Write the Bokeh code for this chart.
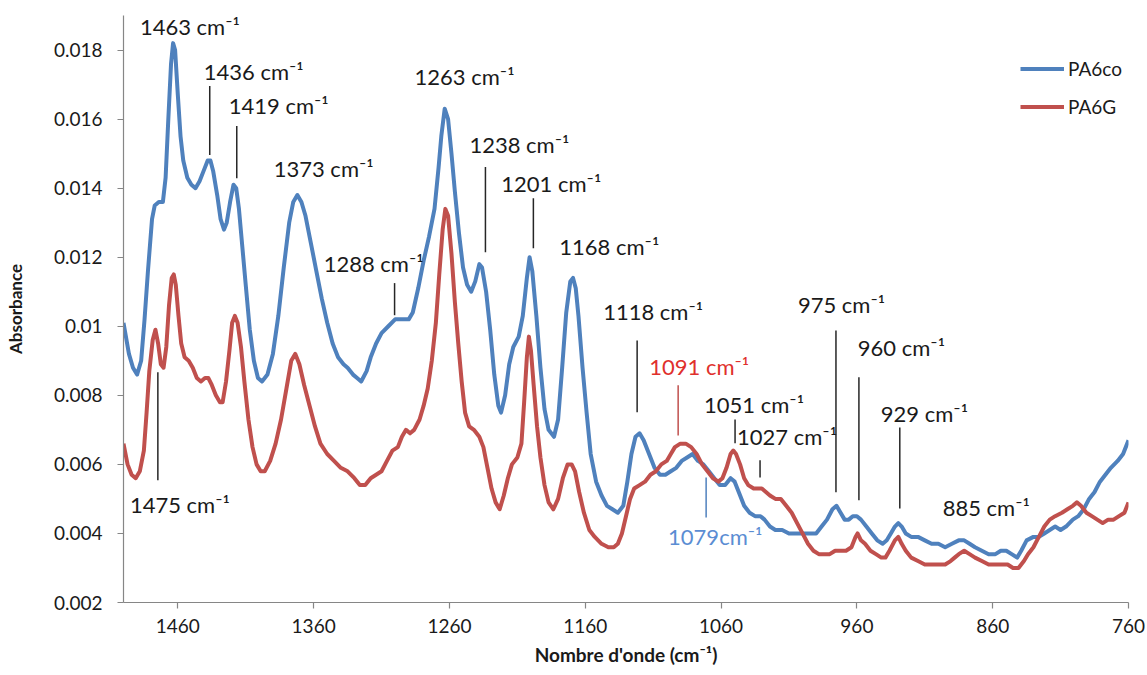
from bokeh.plotting import figure
from bokeh.models import Range1d, FixedTicker, Legend, LegendItem, ColumnDataSource, LabelSet
from bokeh.embed import file_html
from bokeh.resources import INLINE
from bokeh.core.properties import value

# ---------------- data ----------------
wavenumber_co = [1500, 1496, 1493, 1490, 1487, 1484.5, 1482, 1479, 1477, 1474, 1471, 1469, 1467, 1465,
                 1463.5, 1462, 1460, 1458, 1456, 1453, 1450, 1447, 1444, 1441, 1438, 1436, 1434, 1431,
                 1428.5, 1426, 1424, 1421.5, 1419, 1417, 1415, 1412.5, 1410, 1407, 1404, 1401, 1398,
                 1394, 1390, 1386, 1382, 1378, 1375, 1372, 1369, 1366, 1362, 1358, 1354, 1350, 1346,
                 1342, 1338, 1335, 1331, 1328, 1325, 1321, 1318, 1314, 1310, 1305, 1300, 1295, 1290,
                 1287, 1283, 1279, 1275, 1271, 1268, 1266, 1263.5, 1261, 1258.5, 1256, 1253, 1250,
                 1247, 1244, 1241, 1238, 1236, 1233, 1230, 1227, 1224, 1222, 1219, 1216, 1213, 1209,
                 1206, 1203, 1201, 1199, 1196, 1193, 1190, 1187, 1183, 1180, 1177, 1174, 1171, 1169,
                 1167, 1165, 1162, 1159, 1156, 1152, 1148, 1144, 1140, 1136, 1132, 1129, 1126, 1123,
                 1120, 1117, 1113, 1109, 1105, 1101, 1097, 1093, 1089, 1085, 1081, 1077, 1073, 1069,
                 1065, 1061, 1057, 1053, 1050, 1047, 1043, 1039, 1035, 1031, 1028, 1024, 1020, 1015,
                 1010, 1005, 1000, 995, 990, 986, 982, 978, 975, 972, 969, 966, 963, 960, 957, 953,
                 949, 945, 941, 938, 935, 932, 929.5, 927, 924, 920, 915, 910, 905, 900, 895, 890,
                 885, 881, 877, 873, 868, 863, 858, 854, 850, 846, 842, 839, 835, 830, 826, 822, 818,
                 814, 810, 806, 801, 797, 793, 789, 785, 781, 777, 773, 768, 764, 760]
absorbance_co = [0.0101, 0.0092, 0.0088, 0.0086, 0.0090, 0.0102, 0.0116, 0.0131, 0.0135, 0.0136, 0.0136,
                 0.0143, 0.0160, 0.0176, 0.0182, 0.0180, 0.0167, 0.0155, 0.0148, 0.0143, 0.0141, 0.0140,
                 0.0142, 0.0145, 0.0148, 0.0148, 0.0145, 0.0138, 0.0131, 0.0128, 0.0130, 0.0136, 0.0141,
                 0.0140, 0.0134, 0.0123, 0.0112, 0.0099, 0.0090, 0.0085, 0.0084, 0.0086, 0.0092, 0.0103,
                 0.0117, 0.0130, 0.0136, 0.0138, 0.0136, 0.0132, 0.0124, 0.0116, 0.0108, 0.0101, 0.0095,
                 0.0091, 0.0089, 0.0088, 0.0086, 0.0085, 0.0084, 0.0087, 0.0091, 0.0095, 0.0098, 0.0100,
                 0.0102, 0.0102, 0.0102, 0.0104, 0.0111, 0.0119, 0.0126, 0.0134, 0.0146, 0.0155, 0.0163,
                 0.0160, 0.0150, 0.0139, 0.0127, 0.0117, 0.0112, 0.0110, 0.0113, 0.0118, 0.0117, 0.0110,
                 0.0099, 0.0086, 0.0077, 0.0075, 0.0080, 0.0089, 0.0094, 0.0097, 0.0103, 0.0114, 0.0120,
                 0.0116, 0.0103, 0.0088, 0.0076, 0.0070, 0.0068, 0.0073, 0.0088, 0.0104, 0.0113, 0.0114,
                 0.0111, 0.0103, 0.0088, 0.0075, 0.0063, 0.0055, 0.0051, 0.0048, 0.0047, 0.0046, 0.0048,
                 0.0055, 0.0063, 0.0068, 0.0069, 0.0067, 0.0063, 0.0059, 0.0057, 0.0057, 0.0058, 0.0059,
                 0.0061, 0.0062, 0.0063, 0.0061, 0.0060, 0.0058, 0.0056, 0.0054, 0.0054, 0.0056, 0.0055,
                 0.0052, 0.0048, 0.0046, 0.0045, 0.0045, 0.0044, 0.0042, 0.0041, 0.0041, 0.0040, 0.0040,
                 0.0040, 0.0040, 0.0040, 0.0042, 0.0044, 0.0047, 0.0048, 0.0046, 0.0044, 0.0044, 0.0045,
                 0.0045, 0.0044, 0.0042, 0.0040, 0.0038, 0.0037, 0.0038, 0.0040, 0.0042, 0.0043, 0.0042,
                 0.0040, 0.0039, 0.0039, 0.0038, 0.0037, 0.0037, 0.0036, 0.0037, 0.0038, 0.0038, 0.0037,
                 0.0036, 0.0035, 0.0034, 0.0034, 0.0035, 0.0035, 0.0034, 0.0033, 0.0035, 0.0038, 0.0039,
                 0.0039, 0.0040, 0.0041, 0.0042, 0.0041, 0.0042, 0.0044, 0.0045, 0.0047, 0.0050, 0.0052,
                 0.0055, 0.0057, 0.0059, 0.0061, 0.0063, 0.0067]

wavenumber_g = [1500, 1497, 1494, 1491, 1488, 1485, 1483, 1481, 1478.5, 1476.5, 1474.5, 1472.5, 1470.5,
                1468.5, 1466.5, 1464.5, 1463, 1461.5, 1459.5, 1457.5, 1455, 1452, 1449, 1446, 1443,
                1440, 1437.5, 1435, 1432, 1429, 1427, 1424.5, 1422, 1420, 1418, 1416, 1413.5, 1411,
                1408, 1405, 1402, 1399, 1396, 1392, 1388, 1384, 1380, 1376.5, 1373.5, 1370.5, 1367,
                1363, 1359, 1355, 1350, 1345, 1340, 1335, 1330, 1326, 1322, 1318, 1314, 1310, 1306,
                1302, 1298, 1295, 1292, 1289, 1286, 1282, 1279, 1276, 1273, 1270, 1267.5, 1265, 1263,
                1261, 1258.5, 1256, 1253.5, 1251, 1248.5, 1245.5, 1242, 1238, 1235, 1232, 1229, 1226,
                1223, 1220, 1217, 1214, 1210, 1207, 1205, 1203, 1201.5, 1200, 1198, 1195.5, 1193, 1190,
                1187, 1183.5, 1180, 1176.5, 1173, 1170, 1167.5, 1164.5, 1161, 1157, 1153, 1148, 1143,
                1139, 1136, 1133, 1130, 1127, 1124, 1120, 1116, 1112, 1108, 1104, 1100, 1097, 1094,
                1090, 1086, 1082, 1078, 1074, 1070, 1066, 1062, 1059, 1056, 1053, 1051, 1049, 1046,
                1043, 1040, 1036, 1033, 1030, 1027, 1024, 1020, 1016, 1012, 1008, 1004, 1000, 996, 992,
                988, 984, 980, 976, 972, 968, 964, 961, 959.5, 957, 954, 950, 946, 942, 939, 936, 932,
                929.5, 927, 924, 920, 915, 910, 905, 900, 895, 891, 888, 885, 881, 877, 873, 868, 863,
                858, 853, 849, 845, 841, 837, 834, 830, 826, 822, 818, 814, 809, 805, 801, 798, 795,
                791, 787, 783, 779, 775, 771, 767, 763, 760]
absorbance_g = [0.0066, 0.0060, 0.0057, 0.0056, 0.0058, 0.0064, 0.0075, 0.0087, 0.0096, 0.0099, 0.0095,
                0.0089, 0.0088, 0.0094, 0.0106, 0.0114, 0.0115, 0.0112, 0.0103, 0.0095, 0.0091, 0.0090,
                0.0088, 0.0085, 0.0084, 0.0085, 0.0085, 0.0083, 0.0080, 0.0078, 0.0078, 0.0084, 0.0093,
                0.0101, 0.0103, 0.0101, 0.0094, 0.0084, 0.0073, 0.0065, 0.0060, 0.0058, 0.0058, 0.0061,
                0.0066, 0.0073, 0.0082, 0.0090, 0.0092, 0.0089, 0.0083, 0.0077, 0.0071, 0.0066, 0.0063,
                0.0061, 0.0059, 0.0058, 0.0056, 0.0054, 0.0054, 0.0056, 0.0057, 0.0058, 0.0061, 0.0064,
                0.0065, 0.0068, 0.0070, 0.0069, 0.0070, 0.0073, 0.0077, 0.0082, 0.0090, 0.0101, 0.0115,
                0.0128, 0.0134, 0.0132, 0.0121, 0.0107, 0.0095, 0.0084, 0.0075, 0.0071, 0.0070, 0.0068,
                0.0065, 0.0059, 0.0053, 0.0049, 0.0047, 0.0051, 0.0056, 0.0060, 0.0062, 0.0066, 0.0078,
                0.0091, 0.0097, 0.0093, 0.0083, 0.0071, 0.0062, 0.0054, 0.0049, 0.0047, 0.0050, 0.0056,
                0.0060, 0.0060, 0.0058, 0.0052, 0.0046, 0.0041, 0.0039, 0.0037, 0.0036, 0.0036, 0.0037,
                0.0040, 0.0045, 0.0050, 0.0053, 0.0054, 0.0055, 0.0057, 0.0058, 0.0060, 0.0061, 0.0063,
                0.0065, 0.0066, 0.0066, 0.0065, 0.0063, 0.0060, 0.0058, 0.0056, 0.0055, 0.0056, 0.0059,
                0.0063, 0.0064, 0.0063, 0.0060, 0.0056, 0.0054, 0.0053, 0.0053, 0.0053, 0.0052, 0.0051,
                0.0050, 0.0050, 0.0048, 0.0046, 0.0043, 0.0040, 0.0037, 0.0035, 0.0034, 0.0034, 0.0034,
                0.0035, 0.0035, 0.0035, 0.0036, 0.0039, 0.0040, 0.0038, 0.0037, 0.0035, 0.0034, 0.0033,
                0.0033, 0.0035, 0.0038, 0.0039, 0.0037, 0.0035, 0.0033, 0.0032, 0.0031, 0.0031, 0.0031,
                0.0031, 0.0032, 0.0033, 0.0034, 0.0035, 0.0034, 0.0033, 0.0032, 0.0031, 0.0031, 0.0031,
                0.0031, 0.0030, 0.0030, 0.0032, 0.0034, 0.0036, 0.0039, 0.0042, 0.0044, 0.0045, 0.0046,
                0.0047, 0.0048, 0.0049, 0.0048, 0.0046, 0.0045, 0.0044, 0.0043, 0.0044, 0.0044, 0.0045,
                0.0046, 0.0049]

series_names = ["PA6co", "PA6G"]

x_ticks = [1460, 1360, 1260, 1160, 1060, 960, 860, 760]
y_ticks = [0.002, 0.004, 0.006, 0.008, 0.01, 0.012, 0.014, 0.016, 0.018]
y_tick_labels = ["0.002", "0.004", "0.006", "0.008", "0.01", "0.012", "0.014", "0.016", "0.018"]

x_title = "Nombre d'onde (cm\u207b\u00b9)"
y_title = "Absorbance"

peak_labels = ["1463 cm\u207b\u00b9", "1436 cm\u207b\u00b9", "1419 cm\u207b\u00b9", "1373 cm\u207b\u00b9",
               "1288 cm\u207b\u00b9", "1263 cm\u207b\u00b9", "1238 cm\u207b\u00b9", "1201 cm\u207b\u00b9",
               "1168 cm\u207b\u00b9", "1118 cm\u207b\u00b9", "1091 cm\u207b\u00b9", "1051 cm\u207b\u00b9",
               "1027 cm\u207b\u00b9", "975 cm\u207b\u00b9", "960 cm\u207b\u00b9", "929 cm\u207b\u00b9",
               "885 cm\u207b\u00b9", "1475 cm\u207b\u00b9", "1079cm\u207b\u00b9"]

# ---------------- annotation placement ----------------
label_x = [1487.9, 1440.9, 1422.5, 1389.4, 1352.6, 1285.7, 1245.3, 1221.8, 1179.1, 1146.8, 1112.9,
           1072.5, 1048.2, 1003.4, 959.3, 942.4, 896.8, 1495.3, 1099.0]
label_y = [0.01869, 0.01739, 0.01638, 0.01458, 0.01183, 0.01722, 0.01525, 0.01414, 0.01232, 0.01043,
           0.00884, 0.00774, 0.00681, 0.01064, 0.00939, 0.00748, 0.00475, 0.00484, 0.00391]
label_color = ["#1a1a1a"] * 10 + ["#E0302C"] + ["#1a1a1a"] * 7 + ["#5B8DD3"]

leader_x = [1436.5, 1416.6, 1300.4, 1233.5, 1198.2, 1121.8, 1091.6, 1049.7, 1031.3, 975.4, 958.5,
            928.4, 1474.7, 1071.0]
leader_top = [0.01696, 0.01580, 0.01125, 0.01461, 0.01371, 0.00959, 0.00829, 0.00730, 0.00612,
              0.00988, 0.00852, 0.00707, 0.00867, 0.00562]
leader_bottom = [0.01496, 0.01429, 0.01032, 0.01214, 0.01226, 0.00751, 0.00684, 0.00661, 0.00562,
                 0.00519, 0.00496, 0.00472, 0.00554, 0.00446]
leader_color = ["#262626"] * 6 + ["#C0504D"] + ["#262626"] * 6 + ["#4F81BD"]

BLUE = "#4F81BD"
RED = "#C0504D"
FONT = "Lato"

p = figure(width=1145, height=671,
           x_range=Range1d(1500, 760), y_range=Range1d(0.002, 0.019),
           output_backend="svg", toolbar_location=None,
           min_border_left=123, min_border_right=17, min_border_top=15, min_border_bottom=69)
p.outline_line_color = None
p.grid.visible = False
p.background_fill_color = "white"
p.border_fill_color = "white"

r_co = p.line(wavenumber_co, absorbance_co, line_color=BLUE, line_width=4, line_join="round")
r_g = p.line(wavenumber_g, absorbance_g, line_color=RED, line_width=4, line_join="round")

seg_src = ColumnDataSource(dict(x=leader_x, y0=leader_bottom, y1=leader_top, c=leader_color))
p.segment(x0="x", y0="y0", x1="x", y1="y1", line_color="c", line_width=1.5, source=seg_src)

lab_src = ColumnDataSource(dict(x=label_x, y=label_y, t=peak_labels, c=label_color))
labels = LabelSet(x="x", y="y", text="t", text_color="c", source=lab_src,
                  text_font=value(FONT), text_font_size=value("22px"),
                  text_align="left", text_baseline="middle")
p.add_layout(labels)

p.xaxis.ticker = FixedTicker(ticks=x_ticks)
p.yaxis.ticker = FixedTicker(ticks=y_ticks)
p.yaxis.major_label_overrides = {t: l for t, l in zip(y_ticks, y_tick_labels)}

for ax in (p.xaxis[0], p.yaxis[0]):
    ax.axis_line_color = "#868686"
    ax.axis_line_width = 1.2
    ax.major_tick_line_color = "#868686"
    ax.major_tick_line_width = 1.2
    ax.minor_tick_line_color = None
    ax.major_tick_in = 0
    ax.major_tick_out = 6
    ax.major_label_text_font = FONT
    ax.major_label_text_font_size = "19px"
    ax.major_label_text_color = "#1a1a1a"
    ax.axis_label_text_font = FONT
    ax.axis_label_text_font_style = "bold"
    ax.axis_label_text_color = "#1a1a1a"

p.xaxis.axis_label = x_title
p.yaxis.axis_label = y_title
p.xaxis.axis_label_text_font_size = "19px"
p.yaxis.axis_label_text_font_size = "17px"
p.xaxis.major_label_standoff = 10
p.yaxis.major_label_standoff = 15
p.xaxis.axis_label_standoff = 7
p.yaxis.axis_label_standoff = 25

legend = Legend(items=[LegendItem(label=series_names[0], renderers=[r_co]),
                       LegendItem(label=series_names[1], renderers=[r_g])],
                location=(897, 484), border_line_color=None, background_fill_alpha=0,
                padding=0, margin=0, spacing=15, glyph_width=44, glyph_height=23,
                label_height=23, label_standoff=4, label_text_font=FONT,
                label_text_font_size="19px", label_text_color="#1a1a1a")
p.add_layout(legend)

open("out.html", "w").write(file_html(p, INLINE))
